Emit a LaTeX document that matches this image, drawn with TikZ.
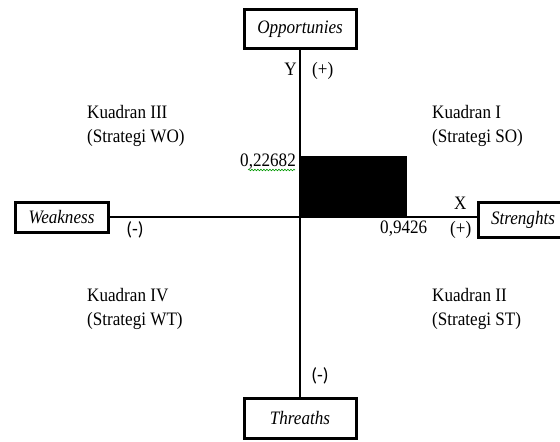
\documentclass[tikz,border=0pt]{standalone}
\usepackage{fontspec}
\setmainfont{Liberation Serif}[FakeStretch=0.9]
\newfontfamily\signfont{Carlito}
\usetikzlibrary{decorations.pathmorphing}
\begin{document}
\begin{tikzpicture}[x=1pt,y=-1pt,
  box/.style={draw, line width=3pt, inner sep=0pt, font=\fontsize{19}{24}\selectfont\itshape},
  lbl/.style={inner sep=0pt, anchor=base west, font=\fontsize{19}{24}\selectfont},
  sgn/.style={inner sep=0pt, font=\signfont\fontsize{19}{22}\selectfont},
  axis/.style={line width=1.4pt}]
\clip (0,0) rectangle (560,442);
\fill[white] (0,0) rectangle (560,442);
% boxes
\node[box, minimum width=112pt, minimum height=39pt] (opp) at (300,29) {Opportunies};
\node[box, minimum width=93pt, minimum height=30pt] (weak) at (61.5,217) {Weakness};
\node[box, minimum width=89pt, minimum height=35pt] (str) at (523,220) {Strenghts};
\node[box, minimum width=112pt, minimum height=40pt] (thr) at (300,418.5) {Threaths};
% black rectangle
\fill (300,156) rectangle (407,217);
% axes
\draw[axis] (opp.south) -- (thr.north);
\draw[axis] (weak.east) -- (weak.east -| str.west);
% axis labels
\node[lbl, anchor=base east] (ylab) at (297,75) {Y};
\node[lbl] (yplus) at (312,75) {(+)};
\node[lbl] (xlab) at (454,209) {X};
\node[lbl] (xplus) at (450,234) {(+)};
\node[sgn] (wminus) at (135,230) {(-)};
\node[sgn] (tminus) at (320,376) {(-)};
% values
\node[lbl, anchor=base east] (vy) at (296,166) {0,22682};
\draw[green!60!black, line width=0.6pt, decorate, decoration={snake, amplitude=0.8pt, segment length=3pt}] (248,170) -- (295,170);
\node[lbl] (vx) at (380,233) {0,9426};
% quadrant labels
\node[lbl] (q3a) at (87,118) {Kuadran III};
\node[lbl] (q3b) at (87,142) {(Strategi WO)};
\node[lbl] (q1a) at (432,118) {Kuadran I};
\node[lbl] (q1b) at (432,142) {(Strategi SO)};
\node[lbl] (q4a) at (87,301) {Kuadran IV};
\node[lbl] (q4b) at (87,325) {(Strategi WT)};
\node[lbl] (q2a) at (432,301) {Kuadran II};
\node[lbl] (q2b) at (432,325) {(Strategi ST)};
\end{tikzpicture}
\end{document}
